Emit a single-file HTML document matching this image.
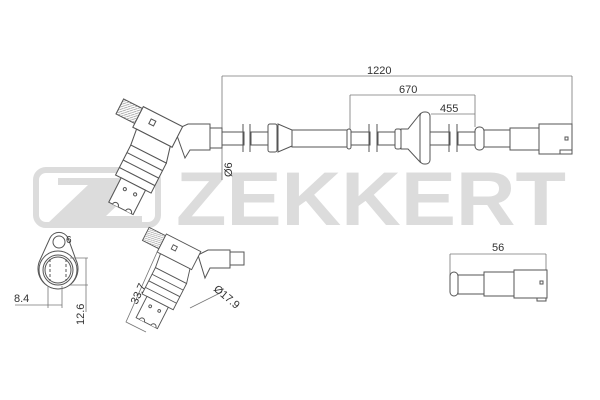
<!DOCTYPE html>
<html><head><style>
html,body{margin:0;padding:0;background:#fff;}
svg{display:block;}
text{font-family:"Liberation Sans",sans-serif;fill:#333;}
</style></head><body>
<svg width="600" height="400" viewBox="0 0 600 400" xmlns="http://www.w3.org/2000/svg">
<defs>
<pattern id="h" width="3" height="3" patternUnits="userSpaceOnUse"><rect width="3" height="3" fill="#fff"/><path d="M0 3L3 0" stroke="#999" stroke-width="0.7"/></pattern>
<g id="sensor" fill="#fff" stroke="#555" stroke-width="1">
  <rect x="-46" y="-14" width="20" height="16" fill="url(#h)"/>
  <rect x="-26" y="-16" width="42" height="22"/>
  <rect x="-14" y="-9" width="5" height="5"/>
  <polygon points="-22,6 14,6 18,22 -20,22"/>
  <rect x="-20" y="22" width="38" height="32"/>
  <line x1="-20" y1="30" x2="18" y2="30"/><line x1="-20" y1="38" x2="18" y2="38"/><line x1="-20" y1="46" x2="18" y2="46"/>
  <rect x="-14" y="54" width="26" height="26"/>
  <circle cx="-6" cy="62" r="1.5"/><circle cx="5" cy="62" r="1.5"/>
  <path d="M-10 80a3 3 0 0 1 6 0M4 80a3 3 0 0 1 6 0"/>
</g>
</defs>

<!-- logo -->
<g fill="#dcdcdc">
  <path d="M46 170h102a10 10 0 0 1 10 10v35a10 10 0 0 1-10 10h-102a10 10 0 0 1-10-10v-35a10 10 0 0 1 10-10z" fill="none" stroke="#dcdcdc" stroke-width="6"/>
  <polygon points="58,178 146,178 106,216 142,216 142,223 48,223 88,185 58,185"/>
  <text x="176" y="225" font-size="76" font-weight="bold" textLength="390" lengthAdjust="spacingAndGlyphs" style="fill:#dcdcdc">ZEKKERT</text>
</g>

<g stroke="#555" stroke-width="1" fill="#fff">
<g stroke="#777" stroke-width="0.8" fill="none">
  <path d="M222 76H572M222 76V130M572 76V125"/>
  <path d="M350 95H475M350 95V130M475 95V127"/>
  <path d="M431 114H475"/>
  <path d="M222 145V180"/>
</g>
<polygon points="175,130 188,124 210,124 210,150 190,150 185,158"/>
<use href="#sensor" transform="translate(160,134) rotate(27) scale(1.05)"/>
<rect x="210" y="128" width="12" height="20"/>
<rect x="222" y="132" width="22" height="13"/>
<path d="M243 124V152M250 124V152"/>
<rect x="251" y="132" width="18" height="13"/>
<rect x="268" y="124" width="9" height="28" rx="2"/>
<polygon points="278,124 292,130 292,146 278,152"/>
<rect x="292" y="130" width="56" height="17"/>
<rect x="347" y="129" width="4" height="20" rx="2"/>
<rect x="351" y="132" width="19" height="13"/>
<path d="M369 124V152M377 124V152"/>
<rect x="378" y="132" width="18" height="13"/>
<rect x="395" y="129" width="6" height="20" rx="2"/>
<polygon points="401,129 408,129 420,114 420,162 408,149 401,149"/>
<rect x="420" y="112" width="10" height="52" rx="4"/>
<rect x="430" y="132" width="20" height="13"/>
<path d="M449 124V152M457 124V152"/>
<rect x="458" y="132" width="18" height="13"/>
<rect x="475" y="127" width="9" height="23" rx="4"/>
<rect x="484" y="130" width="26" height="17"/>
<rect x="510" y="128" width="29" height="22"/>
<rect x="539" y="124" width="33" height="30"/>
<rect x="565" y="137" width="3" height="3"/>
<rect x="560" y="150" width="12" height="4"/>

<path d="M50 238a10 10 0 0 1 18 0l8 22a20 20 0 1 1-36 0z"/>
<circle cx="59" cy="242" r="6"/>
<circle cx="58" cy="270" r="19"/>
<circle cx="58" cy="270" r="15"/>
<circle cx="58" cy="270" r="13"/>
<path d="M50 259V281M66 259V281" stroke-dasharray="3 2"/>
<g stroke="#777" stroke-width="0.8" fill="none">
  <path d="M48 286V308M62 286V308M15 305H62"/>
  <path d="M70 258H88M70 285H88M86 258V312"/>
</g>

<polygon points="198,255 208,250 230,250 230,268 210,268 205,278"/>
<use href="#sensor" transform="translate(181,258) rotate(27) scale(0.92)"/>
<rect x="230" y="252" width="14" height="13"/>
<g stroke="#777" stroke-width="0.8" fill="none">
  <path d="M158 250L126 322L146 332"/>
  <path d="M190 308L222 292"/>
</g>

<g stroke="#777" stroke-width="0.8" fill="none"><path d="M450 254H546M450 254V285M546 254V270"/></g>
<rect x="450" y="272" width="8" height="24" rx="4"/>
<rect x="458" y="275" width="26" height="19"/>
<rect x="484" y="272" width="30" height="24"/>
<rect x="514" y="270" width="33" height="28"/>
<rect x="540" y="281" width="3" height="3"/>
<rect x="537" y="298" width="9" height="3"/>
</g>

<text x="367" y="74" font-size="11">1220</text>
<text x="399" y="93" font-size="11">670</text>
<text x="440" y="112" font-size="11">455</text>
<text x="232" y="177" font-size="11" transform="rotate(-90 232 177)">Ø6</text>
<text x="66" y="243" font-size="10">6</text>
<text x="14" y="302" font-size="11">8.4</text>
<text x="84" y="325" font-size="11" transform="rotate(-90 84 325)">12.6</text>
<text x="137" y="305" font-size="11" transform="rotate(-66 137 305)">33.7</text>
<text x="213" y="290" font-size="11" transform="rotate(40 213 290)">Ø17.9</text>
<text x="492" y="251" font-size="11">56</text>
</svg>
</body></html>
